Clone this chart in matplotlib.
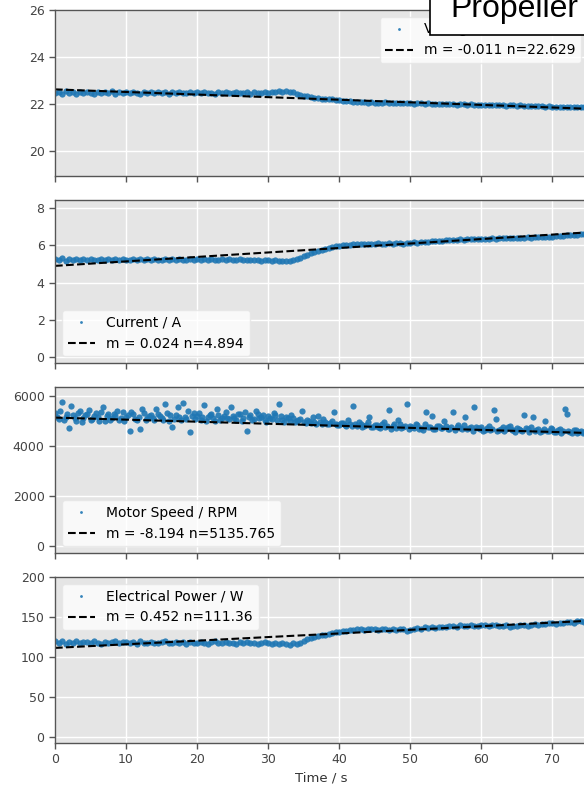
import numpy as np
import matplotlib
matplotlib.use("Agg")
import matplotlib.pyplot as plt
from matplotlib.patches import Rectangle

# time axis, 0.5 s sampling
time_s = [i * 0.5 for i in range(151)]
# extra motor speed readings, taken between the main samples
time_rpm_b = [0.25 + i * 0.5 for i in range(150)]

voltage = [
    22.46, 22.52, 22.43, 22.55, 22.48, 22.51, 22.44, 22.53, 22.47, 22.50,
    22.49, 22.45, 22.52, 22.46, 22.50, 22.48, 22.54, 22.45, 22.51, 22.47,
    22.50, 22.46, 22.52, 22.48, 22.44, 22.51, 22.49, 22.53, 22.46, 22.50,
    22.48, 22.52, 22.45, 22.50, 22.47, 22.53, 22.49, 22.46, 22.51, 22.48,
    22.50, 22.46, 22.52, 22.47, 22.49, 22.45, 22.51, 22.48, 22.50, 22.46,
    22.49, 22.52, 22.46, 22.48, 22.50, 22.45, 22.51, 22.47, 22.49, 22.52,
    22.48, 22.51, 22.50, 22.54, 22.52, 22.56, 22.53, 22.50, 22.45, 22.40,
    22.36, 22.33, 22.30, 22.28, 22.26, 22.24, 22.23, 22.21, 22.20, 22.18,
    22.16, 22.15, 22.13, 22.12, 22.10, 22.09, 22.10, 22.08, 22.07, 22.08,
    22.06, 22.07, 22.05, 22.08, 22.06, 22.04, 22.06, 22.05, 22.03, 22.05,
    22.04, 22.02, 22.04, 22.03, 22.01, 22.03, 22.00, 22.02, 22.01, 21.99,
    22.01, 21.99, 22.00, 21.98, 22.00, 21.99, 21.97, 21.99, 21.98, 21.96,
    21.98, 21.97, 21.96, 21.98, 21.95, 21.97, 21.96, 21.94, 21.96, 21.95,
    21.94, 21.95, 21.93, 21.94, 21.92, 21.93, 21.91, 21.92, 21.90, 21.91,
    21.90, 21.89, 21.90, 21.88, 21.89, 21.87, 21.88, 21.89, 21.87, 21.88,
    21.89,
]

current = [
    5.28, 5.22, 5.30, 5.18, 5.25, 5.21, 5.27, 5.19, 5.24, 5.22,
    5.26, 5.20, 5.23, 5.27, 5.21, 5.24, 5.19, 5.25, 5.22, 5.26,
    5.23, 5.20, 5.25, 5.22, 5.27, 5.21, 5.24, 5.20, 5.26, 5.23,
    5.22, 5.25, 5.21, 5.24, 5.20, 5.26, 5.23, 5.21, 5.25, 5.22,
    5.24, 5.21, 5.26, 5.22, 5.25, 5.20, 5.23, 5.24, 5.21, 5.25,
    5.22, 5.20, 5.24, 5.21, 5.23, 5.19, 5.22, 5.20, 5.18, 5.21,
    5.19, 5.17, 5.20, 5.16, 5.18, 5.15, 5.17, 5.20, 5.26, 5.34,
    5.42, 5.50, 5.57, 5.63, 5.70, 5.76, 5.81, 5.86, 5.90, 5.94,
    5.97, 6.00, 6.02, 6.04, 6.05, 6.07, 6.06, 6.08, 6.07, 6.09,
    6.08, 6.10, 6.07, 6.09, 6.11, 6.08, 6.10, 6.12, 6.09, 6.11,
    6.13, 6.15, 6.14, 6.17, 6.19, 6.18, 6.21, 6.22, 6.24, 6.23,
    6.26, 6.28, 6.27, 6.30, 6.31, 6.30, 6.33, 6.32, 6.34, 6.35,
    6.34, 6.36, 6.35, 6.37, 6.36, 6.38, 6.37, 6.39, 6.38, 6.40,
    6.39, 6.41, 6.40, 6.42, 6.41, 6.43, 6.44, 6.43, 6.45, 6.46,
    6.47, 6.49, 6.50, 6.52, 6.53, 6.55, 6.57, 6.56, 6.58, 6.60,
    6.58,
]

motor_rpm = [
    5320, 5080, 5780, 5150, 4720, 5250, 5020, 5400, 5120, 5300,
    5060, 5220, 5150, 5380, 5010, 5280, 5110, 5200, 5050, 5350,
    5180, 4600, 5270, 5040, 4680, 5330, 5120, 5230, 5060, 5290,
    5140, 5690, 5020, 4750, 5260, 5180, 5720, 5070, 4580, 5310,
    5200, 5050, 5640, 5150, 5280, 5010, 5230, 5120, 5360, 5070,
    5190, 5030, 5270, 5110, 4620, 5240, 5080, 5300, 5160, 5040,
    5210, 5090, 5260, 5700, 5050, 5180, 5020, 5130, 4990, 5080,
    4960, 5050, 4930, 4980, 5200, 4900, 4960, 4870, 5020, 4890,
    4850, 4940, 4820, 4900, 5600, 4810, 4880, 4790, 4950, 4780,
    4860, 4750, 4900, 4770, 5450, 4820, 4740, 4880, 4760, 5700,
    4800, 4730, 4850, 4710, 4900, 4760, 5200, 4700, 4820, 4740,
    4790, 4690, 5350, 4780, 4720, 4860, 4680, 4750, 5550, 4710,
    4770, 4660, 4820, 4700, 5100, 4650, 4760, 4690, 4800, 4640,
    4720, 4630, 5250, 4680, 4760, 4610, 4700, 4620, 5000, 4590,
    4680, 4570, 4700, 4600, 5300, 4560, 4650, 4540, 4620, 4580,
    4550,
]

motor_rpm_b = [
    5180, 5410, 5050, 5270, 5600, 5120, 5340, 4980, 5230, 5450,
    5100, 5310, 5020, 5560, 5190, 5060, 5290, 5420, 5130, 5000,
    5250, 5380, 5080, 5160, 5500, 5030, 5210, 5110, 5470, 5190,
    5060, 5320, 5240, 5100, 5580, 5040, 5150, 5390, 5220, 5090,
    5330, 5170, 4990, 5260, 5120, 5480, 5060, 5210, 5140, 5560,
    5110, 5290, 5000, 5370, 5150, 5050, 5420, 5130, 5250, 4980,
    5140, 5320, 5050, 5220, 4980, 5110, 5260, 4950, 5060, 5400,
    4910, 5010, 5150, 4890, 4960, 5080, 4870, 4920, 5350, 4850,
    4910, 4830, 5050, 4800, 4880, 4960, 4770, 4850, 5150, 4760,
    4830, 4720, 4960, 4800, 4700, 4870, 5050, 4740, 4810, 4690,
    4780, 4880, 4700, 4650, 5380, 4750, 4680, 4810, 4720, 5000,
    4700, 4770, 4640, 4830, 4690, 5150, 4730, 4620, 4760, 4680,
    4610, 4740, 4660, 5450, 4620, 4700, 4590, 4780, 4640, 4560,
    4690, 4600, 4730, 4580, 5150, 4650, 4550, 4680, 4600, 4720,
    4560, 4640, 4520, 5500, 4600, 4530, 4660, 4570, 4510, 4620,
]

power = [
    119.5, 117.0, 120.5, 116.5, 119.0, 118.0, 120.0, 117.5, 118.5, 119.0,
    117.0, 119.5, 118.0, 116.5, 119.0, 117.5, 118.5, 120.0, 117.0, 118.5,
    119.0, 117.5, 118.5, 116.5, 119.5, 118.0, 117.0, 119.0, 118.0, 117.5,
    118.5, 119.5, 117.0, 118.0, 119.0, 117.5, 118.5, 116.5, 119.0, 118.0,
    117.5, 119.0, 118.0, 116.5, 118.5, 119.5, 117.0, 118.0, 119.0, 117.5,
    118.0, 116.5, 118.5, 117.5, 119.0, 117.0, 118.0, 116.0, 117.5, 118.5,
    117.0, 116.0, 117.5, 116.5, 118.0, 116.0, 115.5, 117.0, 116.0, 118.0,
    120.0, 122.0, 123.5, 125.0, 126.0, 127.5, 128.0, 129.0, 130.0, 131.0,
    131.5, 132.0, 133.0, 133.5, 134.0, 134.5, 135.0, 134.0, 135.0, 134.5,
    135.5, 134.0, 135.0, 134.5, 133.5, 135.0, 134.0, 135.5, 134.5, 133.0,
    134.0, 135.0, 136.5, 135.5, 137.0, 136.0, 137.5, 136.5, 137.0, 138.0,
    137.5, 138.5, 139.0, 138.0, 139.5, 138.5, 139.0, 140.0, 139.0, 138.5,
    139.5, 140.0, 138.5, 139.5, 140.5, 139.0, 138.5, 139.5, 138.0, 139.0,
    138.5, 139.5, 140.0, 139.0, 140.5, 141.0, 140.0, 141.5, 141.0, 142.0,
    142.5, 141.5, 143.0, 142.0, 143.5, 144.0, 143.0, 144.5, 145.0, 144.0,
    143.5,
]

labels = ["Voltage / V", "Current / A", "Motor Speed / RPM", "Electrical Power / W"]
slopes = [-0.011, 0.024, -8.194, 0.452]
intercepts = [22.629, 4.894, 5135.765, 111.36]
ylims = [(18.95, 26.0), (-0.32, 8.43), (-280, 6360), (-7.5, 200)]
yticks = [[20, 22, 24, 26], [0, 2, 4, 6, 8], [0, 2000, 4000, 6000], [0, 50, 100, 150, 200]]
legend_locs = ["upper right", "lower left", "lower left", "upper left"]
series = [voltage, current, motor_rpm, power]

plt.rcParams.update({
    "axes.facecolor": "#E5E5E5",
    "axes.edgecolor": "#555555",
    "axes.linewidth": 1.0,
    "grid.color": "white",
    "grid.linewidth": 1.0,
    "xtick.color": "#555555",
    "ytick.color": "#555555",
    "xtick.labelcolor": "#444444",
    "ytick.labelcolor": "#444444",
    "font.size": 9,
})

fig = plt.figure(figsize=(5.84, 7.87), dpi=100)

# axes boxes in pixels (top, bottom); right edge runs just past the figure
panels = [(10, 176), (200, 363), (387, 553), (577, 743)]
left_px, right_px = 55, 588
t = np.array(time_s)
axes = []
for i, (top, bot) in enumerate(panels):
    ax = fig.add_axes([left_px / 584, 1 - bot / 787, (right_px - left_px) / 584, (bot - top) / 787])
    ax.set_axisbelow(True)
    ax.grid(True)
    ax.plot(t, series[i], "o", color="#1f77b4", ms=4.5, mew=0, alpha=0.9, label=labels[i])
    if i == 2:
        ax.plot(time_rpm_b, motor_rpm_b, "o", color="#1f77b4", ms=4.5, mew=0, alpha=0.9)
    ax.plot(t, slopes[i] * t + intercepts[i], "--", color="black", lw=1.5,
            label="m = %s n=%s" % (slopes[i], intercepts[i]))
    ax.set_xlim(0, 75)
    ax.set_ylim(*ylims[i])
    ax.set_yticks(yticks[i])
    ax.set_xticks(range(0, 80, 10))
    ax.tick_params(direction="out", length=4, width=1, labelsize=9)
    if i < 3:
        ax.set_xticklabels([])
    leg = ax.legend(loc=legend_locs[i], fontsize=10, frameon=True, framealpha=0.8,
                    edgecolor="#E5E5E5", facecolor="white", fancybox=True, markerscale=0.45)
    axes.append(ax)

axes[-1].set_xlabel("Time / s", fontsize=9.5, color="#333333")

# "Propeller" label box in the top right corner, partly outside the figure
fig.patches.append(Rectangle((430 / 584, 1 - 35 / 787), 0.4, 0.1, transform=fig.transFigure,
                             facecolor="white", edgecolor="black", lw=1.2, zorder=9))
fig.text(450 / 584, 1 - 17 / 787, "Propeller", fontsize=23, family="Liberation Sans",
         va="baseline", ha="left", zorder=10)

fig.savefig("out.png", dpi=100)
